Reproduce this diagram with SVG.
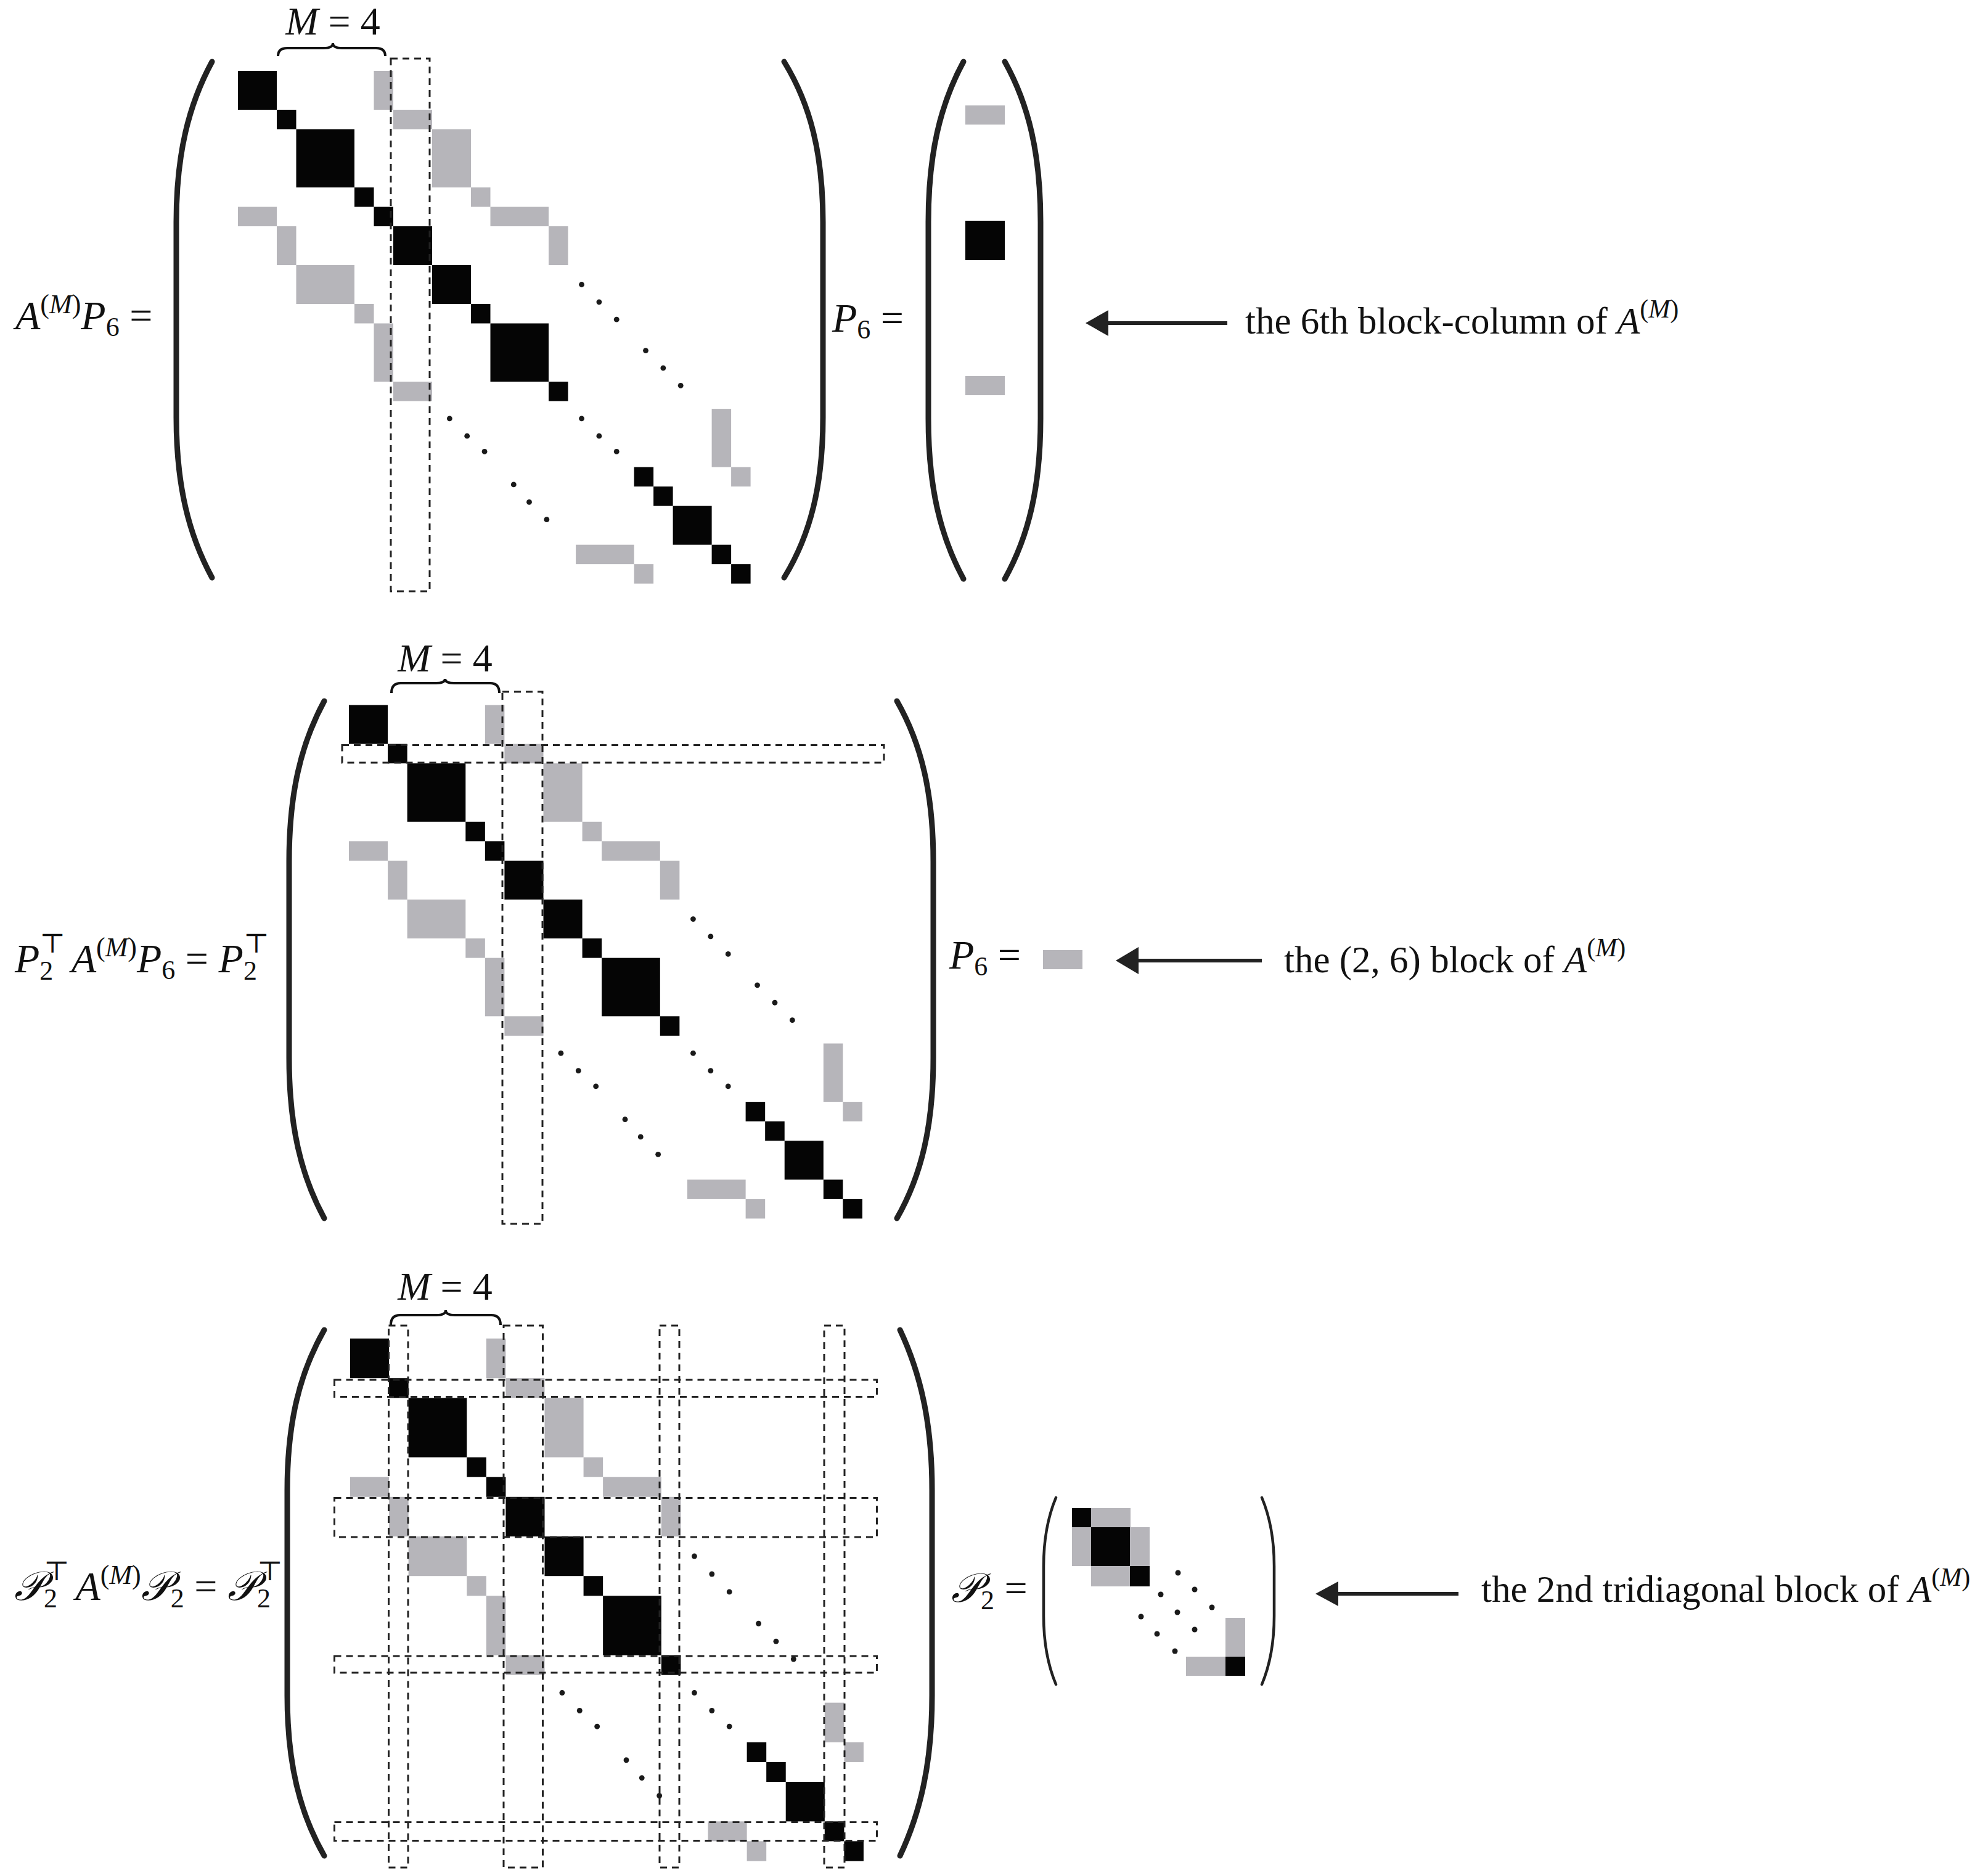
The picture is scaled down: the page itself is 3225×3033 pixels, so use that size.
<svg xmlns="http://www.w3.org/2000/svg" xmlns:xlink="http://www.w3.org/1999/xlink" width="3225" height="3033" viewBox="0 0 3225 3033">
<style>
.b{fill:#050505}
.g{fill:#b6b5ba}
.d{fill:#1a1a1a}
.box{fill:none;stroke:#222;stroke-width:3;stroke-dasharray:11 8}
.par{fill:none;stroke:#222;stroke-width:9;stroke-linecap:round}
.spar{fill:none;stroke:#222;stroke-width:4.5;stroke-linecap:round}
.brace{fill:none;stroke:#111;stroke-width:4}
.t{font-family:"Liberation Serif","DejaVu Serif",serif;font-size:61px;fill:#111}
.m{font-family:"Liberation Serif","DejaVu Serif",serif;font-size:66px;fill:#111}
.bm{font-family:"Liberation Serif","DejaVu Serif",serif;font-size:64px;fill:#111}
.i{font-style:italic}
.arr{stroke:#222;stroke-width:6}
.ah{fill:#222}
</style>
<defs>
<g id="core">
<rect class="b" x="0" y="0" width="2" height="2"/>
<rect class="b" x="2" y="2" width="1" height="1"/>
<rect class="b" x="3" y="3" width="3" height="3"/>
<rect class="b" x="6" y="6" width="1" height="1"/>
<rect class="b" x="7" y="7" width="1" height="1"/>
<rect class="b" x="8" y="8" width="2" height="2"/>
<rect class="b" x="10" y="10" width="2" height="2"/>
<rect class="b" x="12" y="12" width="1" height="1"/>
<rect class="b" x="13" y="13" width="3" height="3"/>
<rect class="b" x="16" y="16" width="1" height="1"/>
<rect class="b" x="20.4" y="20.4" width="1" height="1"/>
<rect class="b" x="21.4" y="21.4" width="1" height="1"/>
<rect class="b" x="22.4" y="22.4" width="2" height="2"/>
<rect class="b" x="24.4" y="24.4" width="1" height="1"/>
<rect class="b" x="25.4" y="25.4" width="1" height="1"/>
<rect class="g" x="7" y="0" width="1" height="2"/>
<rect class="g" x="8" y="2" width="2" height="1"/>
<rect class="g" x="10" y="3" width="2" height="3"/>
<rect class="g" x="12" y="6" width="1" height="1"/>
<rect class="g" x="13" y="7" width="3" height="1"/>
<rect class="g" x="16" y="8" width="1" height="2"/>
<rect class="g" x="0" y="7" width="2" height="1"/>
<rect class="g" x="2" y="8" width="1" height="2"/>
<rect class="g" x="3" y="10" width="3" height="2"/>
<rect class="g" x="6" y="12" width="1" height="1"/>
<rect class="g" x="7" y="13" width="1" height="3"/>
<rect class="g" x="8" y="16" width="2" height="1"/>
<rect class="g" x="25.4" y="20.4" width="1" height="1"/>
<rect class="g" x="20.4" y="25.4" width="1" height="1"/>
<circle class="d" cx="17.7" cy="11.0" r="0.14"/><circle class="d" cx="18.6" cy="11.9" r="0.14"/><circle class="d" cx="19.5" cy="12.8" r="0.14"/>
<circle class="d" cx="21.0" cy="14.4" r="0.14"/><circle class="d" cx="21.9" cy="15.3" r="0.14"/><circle class="d" cx="22.8" cy="16.2" r="0.14"/>
<circle class="d" cx="10.9" cy="17.9" r="0.14"/><circle class="d" cx="11.8" cy="18.8" r="0.14"/><circle class="d" cx="12.7" cy="19.6" r="0.14"/>
<circle class="d" cx="14.2" cy="21.3" r="0.14"/><circle class="d" cx="15.0" cy="22.2" r="0.14"/><circle class="d" cx="15.9" cy="23.1" r="0.14"/>
<circle class="d" cx="17.7" cy="17.9" r="0.14"/><circle class="d" cx="18.6" cy="18.8" r="0.14"/><circle class="d" cx="19.5" cy="19.6" r="0.14"/>
</g>
<g id="end3">
<rect class="g" x="24.4" y="17.4" width="1" height="3"/>
<rect class="g" x="17.4" y="24.4" width="3" height="1"/>
</g>
<g id="end2">
<rect class="g" x="24.4" y="18.4" width="1" height="2"/>
<rect class="g" x="18.4" y="24.4" width="2" height="1"/>
</g>
</defs>

<g id="matrix1">
<use xlink:href="#core" transform="translate(386,115) scale(31.5)"/>
<use xlink:href="#end3" transform="translate(386,115) scale(31.5)"/>
<path class="par" d="M344 100 C306 170 286 250 286 360 L286 677 C286 787 306 867 344 937"/>
<path class="par" d="M1272 100 C1315 170 1335 250 1335 360 L1335 677 C1335 787 1315 867 1272 937"/>
<path class="brace" d="M451 91 Q451 78 466 78 L525 78 Q540 78 540 70 Q540 78 555 78 L610 78 Q625 78 625 91"/>
<text class="bm" x="540" y="56" text-anchor="middle"><tspan class="i">M</tspan> = 4</text>
<rect class="box" x="634" y="95" width="63" height="864"/>
<text class="m" x="25" y="534"><tspan class="i">A</tspan><tspan dy="-26" font-size="44">(</tspan><tspan class="i" font-size="44">M</tspan><tspan font-size="44">)</tspan><tspan dy="26" class="i">P</tspan><tspan dy="11" font-size="44">6</tspan><tspan dy="-11"> =</tspan></text>
</g>

<g id="vector1">
<path class="par" d="M1563 100 C1525 170 1506 250 1506 360 L1506 679 C1506 789 1525 869 1563 939"/>
<path class="par" d="M1630 100 C1669 170 1688 250 1688 360 L1688 679 C1688 789 1669 869 1630 939"/>
<rect class="g" x="1566" y="171" width="64" height="31"/>
<rect class="b" x="1566" y="358" width="64" height="64"/>
<rect class="g" x="1566" y="610" width="64" height="31"/>
<text class="m" x="1350" y="538"><tspan class="i">P</tspan><tspan dy="11" font-size="44">6</tspan><tspan dy="-11"> =</tspan></text>
</g>
<g id="label1">
<text class="t" x="2020" y="541">the 6th block-column of <tspan class="i">A</tspan><tspan dy="-26" font-size="42">(</tspan><tspan class="i" font-size="42">M</tspan><tspan font-size="42">)</tspan></text>
</g>

<g id="matrix2">
<use xlink:href="#core" transform="translate(566,1143.5) scale(31.55)"/>
<use xlink:href="#end3" transform="translate(566,1143.5) scale(31.55)"/>
<path class="par" d="M526 1137 C488 1207 469 1287 469 1397 L469 1716 C469 1826 488 1906 526 1976"/>
<path class="par" d="M1455 1137 C1495 1207 1514 1287 1514 1397 L1514 1716 C1514 1826 1495 1906 1455 1976"/>
<path class="brace" d="M635 1124 Q635 1108 650 1108 L707 1108 Q722 1108 722 1101 Q722 1108 737 1108 L795 1108 Q810 1108 810 1124"/>
<text class="bm" x="722" y="1089" text-anchor="middle"><tspan class="i">M</tspan> = 4</text>
<rect class="box" x="815" y="1122" width="65" height="863"/>
<rect class="box" x="555" y="1208.5" width="879" height="28.5"/>
<text class="m" x="24" y="1577"><tspan class="i">P</tspan><tspan dy="12" font-size="44">2</tspan><tspan dx="-22" dy="-44" font-size="44">⊤</tspan><tspan dx="10" dy="32" class="i">A</tspan><tspan dy="-26" font-size="44">(</tspan><tspan class="i" font-size="44">M</tspan><tspan font-size="44">)</tspan><tspan dy="26" class="i">P</tspan><tspan dy="11" font-size="44">6</tspan><tspan dy="-11"> = </tspan><tspan class="i">P</tspan><tspan dy="12" font-size="44">2</tspan><tspan dx="-22" dy="-44" font-size="44">⊤</tspan></text>
</g>
<g id="block26">
<rect class="g" x="1692" y="1541" width="64" height="31"/>
<text class="m" x="1540" y="1571"><tspan class="i">P</tspan><tspan dy="11" font-size="44">6</tspan><tspan dy="-11"> =</tspan></text>
</g>
<g id="label2">
<text class="t" x="2083" y="1577">the (2, 6) block of <tspan class="i">A</tspan><tspan dy="-26" font-size="42">(</tspan><tspan class="i" font-size="42">M</tspan><tspan font-size="42">)</tspan></text>
</g>

<g id="matrix3">
<use xlink:href="#core" transform="translate(568,2171) scale(31.55,32.1)"/>
<use xlink:href="#end2" transform="translate(568,2171) scale(31.55,32.1)"/>
<path class="par" d="M526 2157 C486 2227 466 2307 466 2417 L466 2750 C466 2860 486 2940 526 3010"/>
<path class="par" d="M1460 2157 C1493 2227 1512 2307 1512 2417 L1512 2750 C1512 2860 1493 2940 1460 3010"/>
<path class="brace" d="M634 2149 Q634 2133 649 2133 L708 2133 Q723 2133 723 2125 Q723 2133 738 2133 L797 2133 Q812 2133 812 2149"/>
<text class="bm" x="722" y="2108" text-anchor="middle"><tspan class="i">M</tspan> = 4</text>
<rect class="box" x="630.5" y="2150" width="31.5" height="879"/>
<rect class="box" x="817" y="2150" width="63.5" height="879"/>
<rect class="box" x="1070" y="2150" width="32" height="879"/>
<rect class="box" x="1337" y="2150" width="33" height="879"/>
<rect class="box" x="542.5" y="2238" width="880" height="27.5"/>
<rect class="box" x="542.5" y="2429.5" width="880" height="63.5"/>
<rect class="box" x="542.5" y="2686" width="880" height="27"/>
<rect class="box" x="542.5" y="2955.5" width="880" height="30"/>
<text class="m" x="23" y="2595"><tspan class="i">𝒫</tspan><tspan dy="12" font-size="44">2</tspan><tspan dx="-22" dy="-44" font-size="44">⊤</tspan><tspan dx="10" dy="32" class="i">A</tspan><tspan dy="-26" font-size="44">(</tspan><tspan class="i" font-size="44">M</tspan><tspan font-size="44">)</tspan><tspan dy="26" class="i">𝒫</tspan><tspan dy="12" font-size="44">2</tspan><tspan dy="-12"> = </tspan><tspan class="i">𝒫</tspan><tspan dy="12" font-size="44">2</tspan><tspan dx="-22" dy="-44" font-size="44">⊤</tspan></text>
</g>
<g id="tridiag2">
<path class="spar" d="M1713 2429 C1700 2460 1693 2500 1693 2540 L1693 2621 C1693 2661 1700 2701 1713 2732"/>
<path class="spar" d="M2047 2429 C2060 2460 2067 2500 2067 2540 L2067 2621 C2067 2661 2060 2701 2047 2732"/>
<rect class="b" x="1739" y="2446" width="31" height="31"/>
<rect class="g" x="1770" y="2446" width="64" height="31"/>
<rect class="g" x="1739" y="2477" width="31" height="63"/>
<rect class="b" x="1770" y="2477" width="63" height="63"/>
<rect class="g" x="1833" y="2477" width="32" height="63"/>
<rect class="g" x="1770" y="2540" width="63" height="33"/>
<rect class="b" x="1833" y="2540" width="32" height="33"/>
<rect class="g" x="1988" y="2624" width="32" height="63"/>
<rect class="g" x="1924" y="2687" width="64" height="31"/>
<rect class="b" x="1988" y="2687" width="32" height="31"/>
<circle class="d" cx="1911" cy="2551" r="4.5"/><circle class="d" cx="1938" cy="2578" r="4.5"/><circle class="d" cx="1966" cy="2607" r="4.5"/>
<circle class="d" cx="1883" cy="2586" r="4.5"/><circle class="d" cx="1910" cy="2615" r="4.5"/><circle class="d" cx="1938" cy="2643" r="4.5"/>
<circle class="d" cx="1851" cy="2622" r="4.5"/><circle class="d" cx="1877" cy="2650" r="4.5"/><circle class="d" cx="1906" cy="2678" r="4.5"/>
<text class="m" x="1543" y="2598"><tspan class="i">𝒫</tspan><tspan dy="12" font-size="44">2</tspan><tspan dy="-12"> =</tspan></text>
</g>
<g id="label3">
<text class="t" x="2403" y="2598">the 2nd tridiagonal block of <tspan class="i">A</tspan><tspan dy="-26" font-size="42">(</tspan><tspan class="i" font-size="42">M</tspan><tspan font-size="42">)</tspan></text>
</g>

<g id="connectors">
<line class="arr" x1="1790" y1="524" x2="1991" y2="524"/>
<polygon class="ah" points="1761,524 1798,503 1798,545"/>
<line class="arr" x1="1840" y1="1558" x2="2047" y2="1558"/>
<polygon class="ah" points="1810,1558 1847,1536 1847,1580"/>
<line class="arr" x1="2164" y1="2585" x2="2366" y2="2585"/>
<polygon class="ah" points="2134,2585 2171,2565 2171,2605"/>
</g>
</svg>
